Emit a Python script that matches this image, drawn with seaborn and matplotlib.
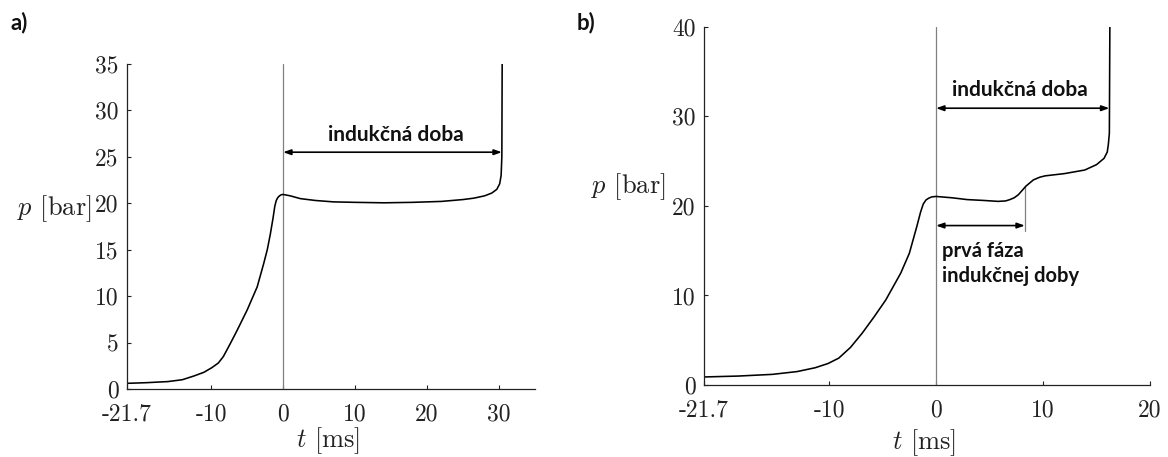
import numpy as np
import pandas as pd
import matplotlib
matplotlib.use("Agg")
import matplotlib.pyplot as plt
import seaborn as sns

# ---- data ----
t_a = [-21.7, -19, -16, -14, -12.4, -11, -9.9, -9.0, -8.3, -7.4, -6.4, -5.0, -3.6,
       -2.7, -2.2, -1.77, -1.4, -1.15, -0.95, -0.75, -0.5, -0.25, 0, 1, 2.4, 4.5, 7, 10, 14, 18,
       22, 25, 26.5, 28, 29, 29.7, 30.1, 30.3, 30.4, 30.45]
p_a = [0.61, 0.68, 0.8, 1.0, 1.4, 1.8, 2.3, 2.8, 3.5, 4.8, 6.3, 8.5, 11.0,
       13.5, 15.0, 16.7, 18.4, 19.7, 20.3, 20.6, 20.8, 20.92, 20.95, 20.8, 20.5, 20.3, 20.15, 20.1,
       20.05, 20.1, 20.2, 20.4, 20.55, 20.8, 21.1, 21.5, 22.1, 23.0, 25.0, 36.0]

t_b = [-21.7, -18.5, -15.3, -13, -11.3, -10.1, -9.1, -8.0, -6.9, -5.8, -4.7, -3.3, -2.5,
       -1.8, -1.45, -1.2, -0.95, -0.7, -0.4, 0, 1.5, 2.9, 4.5, 5.8, 6.5, 6.9, 7.3, 7.7, 8.4, 9.1,
       9.7, 10.2, 12.0, 13.9, 15.0, 15.7, 16.0, 16.1, 16.2, 16.25]
p_b = [0.9, 1.0, 1.19, 1.5, 1.93, 2.4, 3.0, 4.2, 5.8, 7.6, 9.5, 12.5, 14.7,
       17.7, 19.3, 20.2, 20.65, 20.85, 21.0, 21.05, 20.9, 20.7, 20.6, 20.5, 20.55, 20.7, 20.9,
       21.25, 22.2, 22.9, 23.2, 23.35, 23.6, 24.0, 24.6, 25.3, 26.0, 26.8, 28.1, 41.0]

xticks_a = [-21.7, -10, 0, 10, 20, 30]
xticklabels_a = ["-21.7", "-10", "0", "10", "20", "30"]
yticks_a = [0, 5, 10, 15, 20, 25, 30, 35]
xticks_b = [-21.7, -10, 0, 10, 20]
xticklabels_b = ["-21.7", "-10", "0", "10", "20"]
yticks_b = [0, 10, 20, 30, 40]

label_induction = "indukčná doba"
label_first_phase = "prvá fáza\nindukčnej doby"

# ---- style ----
sns.set_style("ticks")
plt.rcParams["font.family"] = ["cmr10", "Liberation Serif", "DejaVu Serif"]
plt.rcParams["mathtext.fontset"] = "cm"
plt.rcParams["axes.unicode_minus"] = False
plt.rcParams["axes.formatter.use_mathtext"] = True

INK = "#222222"
GREY = "#808080"
ANN_FONT = dict(family=["Lato", "DejaVu Sans"], weight="bold", color="#111111")

fig = plt.figure(figsize=(11.68, 4.57), dpi=100)
ax_a = fig.add_axes([0.1087, 0.1488, 0.3493, 0.7112])
ax_b = fig.add_axes([0.6027, 0.1575, 0.3819, 0.7841])

df_a = pd.DataFrame({"t": t_a, "p": p_a})
df_b = pd.DataFrame({"t": t_b, "p": p_b})

sns.lineplot(data=df_a, x="t", y="p", ax=ax_a, color="black", lw=1.15, sort=False)
sns.lineplot(data=df_b, x="t", y="p", ax=ax_b, color="black", lw=1.15, sort=False)


def style_axes(ax, xlim, ylim, xticks, xticklabels, yticks):
    ax.set_xlim(*xlim)
    ax.set_ylim(*ylim)
    ax.set_xticks(xticks)
    ax.set_xticklabels(xticklabels)
    ax.set_yticks(yticks)
    ax.set_yticklabels([str(v) for v in yticks])
    for s in ["top", "right"]:
        ax.spines[s].set_visible(False)
    for s in ["left", "bottom"]:
        ax.spines[s].set_linewidth(0.9)
        ax.spines[s].set_color(INK)
    ax.tick_params(direction="in", length=3.2, width=0.8, colors=INK,
                   labelsize=17, pad=6)
    ax.tick_params(axis="x", pad=10)
    ax.set_xlabel(r"$t$ [ms]", fontsize=19, color=INK, va="center")
    ax.set_ylabel(r"$p$ [bar]", fontsize=19, color=INK, rotation=0,
                  ha="right", va="center")


style_axes(ax_a, (-21.7, 35), (0, 35), xticks_a, xticklabels_a, yticks_a)
style_axes(ax_b, (-21.7, 20), (0, 40), xticks_b, xticklabels_b, yticks_b)

ax_a.xaxis.set_label_coords(0.494, -0.158)
ax_a.yaxis.set_label_coords(-0.087, 0.555)
ax_b.xaxis.set_label_coords(0.493, -0.162)
ax_b.yaxis.set_label_coords(-0.087, 0.553)

# vertical reference lines at t = 0
ax_a.axvline(0, color=GREY, lw=0.9, zorder=1)
ax_b.axvline(0, color=GREY, lw=0.9, zorder=1)
ax_b.plot([8.3, 8.3], [17.2, 22.2], color=GREY, lw=0.9, zorder=1)

arrow = dict(arrowstyle="<|-|>,head_length=0.45,head_width=0.16", color="black",
             lw=1.2, shrinkA=0, shrinkB=0)

# panel a annotations
ax_a.annotate("", xy=(30.4, 25.5), xytext=(0, 25.5), arrowprops=arrow)
ax_a.text(15.7, 27.4, label_induction, ha="center", va="center", fontsize=15, **ANN_FONT)

# panel b annotations
ax_b.annotate("", xy=(16.2, 30.9), xytext=(0, 30.9), arrowprops=arrow)
ax_b.text(7.85, 32.9, label_induction, ha="center", va="center", fontsize=15, **ANN_FONT)
ax_b.annotate("", xy=(8.3, 17.8), xytext=(0, 17.8), arrowprops=arrow)
ax_b.text(0.55, 13.6, label_first_phase, ha="left", va="center", fontsize=14.5,
          linespacing=1.3, **ANN_FONT)

fig.text(0.0094, 0.950, "a)", fontsize=16, ha="left", va="center", **ANN_FONT)
fig.text(0.494, 0.950, "b)", fontsize=16, ha="left", va="center", **ANN_FONT)

fig.savefig("out.png", dpi=100)
